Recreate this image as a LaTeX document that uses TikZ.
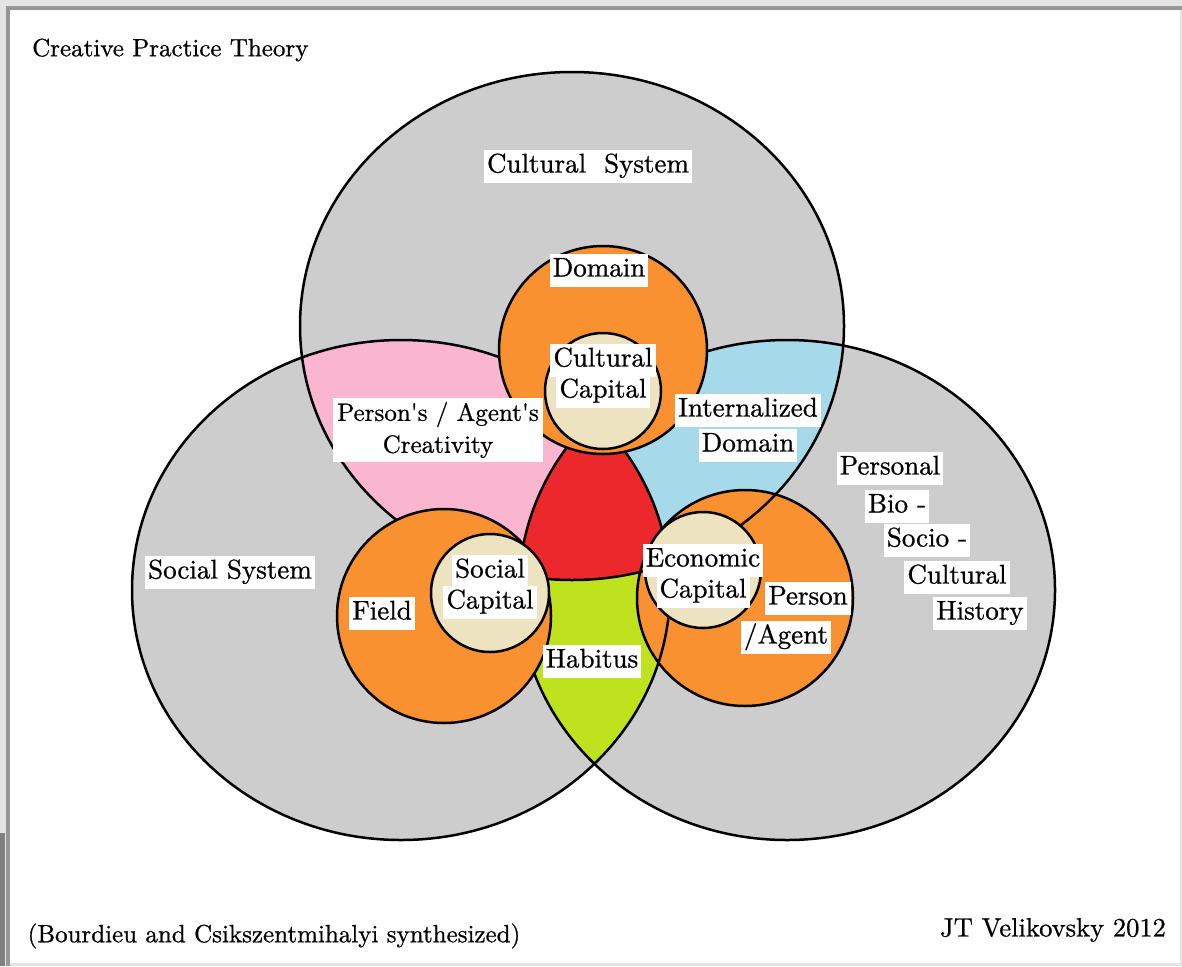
\documentclass[tikz,border=0pt]{standalone}
\usepackage{fontspec}
\usepackage{tikz}
\usepackage{xcolor}

\newfontfamily\lblfont{lmroman10-regular}[Extension=.otf, FakeBold=0.8]

\definecolor{sysgray}{RGB}{205,205,205}
\definecolor{crpink}{RGB}{250,182,206}
\definecolor{inblue}{RGB}{166,218,234}
\definecolor{midred}{RGB}{236,40,44}
\definecolor{habgreen}{RGB}{190,226,30}
\definecolor{orng}{RGB}{250,145,48}
\definecolor{capbeige}{RGB}{238,227,192}
\definecolor{framegray}{RGB}{150,150,150}
\definecolor{edgegray}{RGB}{228,228,228}

\tikzset{
  lbl/.style={fill=white, inner xsep=3pt, inner ysep=4pt, text height=19pt, text depth=6pt, font=\lblfont\fontsize{27}{32}\selectfont},
  plain/.style={inner sep=0pt, font=\lblfont\fontsize{25}{30}\selectfont},
  ring/.style={draw=black, line width=2.5pt},
}

% the three big systems
\def\culsys{(572,326) ellipse [x radius=272, y radius=254]}
\def\socsys{(401,590) ellipse [x radius=269, y radius=250]}
\def\bioh{(787,590) ellipse [x radius=268, y radius=250]}

\begin{document}
\begin{tikzpicture}[x=1pt, y=-1pt]
				\useasboundingbox (0,0) rectangle (1182,966);
				\fill[edgegray] (0,0) rectangle (1182,966);
				\fill[white] (10,10) rectangle (1180,963);
				\fill[gray] (0,833) rectangle (5,966);
				\draw[framegray, line width=4pt] (8,966) -- (8,8) -- (1182,8);

				\fill[sysgray] \culsys;
				\fill[sysgray] \socsys;
				\fill[sysgray] \bioh;
				\begin{scope}
					\clip \culsys;
					\fill[crpink] \socsys;
					\fill[inblue] \bioh;
				\end{scope}
				\begin{scope}
					\clip \socsys;
					\fill[habgreen] \bioh;
				\end{scope}
				\begin{scope}
					\clip \culsys;
					\clip \socsys;
					\fill[midred] \bioh;
				\end{scope}
				\draw[ring] \culsys;
				\draw[ring] \socsys;
				\draw[ring] \bioh;

				% orange rings
				\draw[ring, fill=orng] (603,350) circle (104);
				\draw[ring, fill=orng] (444,616) circle (107);
				\draw[ring, fill=orng] (745,598) circle (108);
				\begin{scope}
					\clip (745,598) circle (108);
					\draw[ring] \culsys;
					\draw[ring] \socsys;
				\end{scope}

				% capitals
				\draw[ring, fill=capbeige] (603,391) circle (58);
				\draw[ring, fill=capbeige] (490,593) circle (59);
				\draw[ring, fill=capbeige] (703,570) circle (58);

				\node[plain, anchor=west] (title) at (32,50) {Creative Practice Theory};
				\node[plain] (source) at (274,936) {(Bourdieu and Csikszentmihalyi synthesized)};
				\node[plain, font=\lblfont\fontsize{26.5}{30}\selectfont] (author) at (1053,930) {JT Velikovsky 2012};

				\node[lbl] (culsys) at (588,166) {Cultural~ System};
				\node[lbl] (domain) at (599,270) {Domain};
				\node[lbl] (culcapa) at (603,360) {Cultural};
				\node[lbl] (culcapb) at (603,391) {Capital};
				\node[fill=white, inner sep=4pt, align=center, font=\lblfont\fontsize{25}{32}\selectfont] (creat) at (438,430) {Person's / Agent's\\Creativity};
				\node[lbl] (indoma) at (748,410) {Internalized};
				\node[lbl] (indomb) at (748,445) {Domain};
				\node[lbl] (histA) at (890,468) {Personal};
				\node[lbl] (histB) at (897,506) {Bio -};
				\node[lbl] (histC) at (927,540) {Socio -};
				\node[lbl] (histD) at (957,577) {Cultural};
				\node[lbl] (histE) at (980,613) {History};
				\node[lbl] (socsys) at (230,572) {Social System};
				\node[lbl] (field) at (382,613) {Field};
				\node[lbl] (soccapa) at (490,571) {Social};
				\node[lbl] (soccapb) at (490,602) {Capital};
				\node[lbl] (habitus) at (592,661) {Habitus};
				\node[lbl] (ecocapa) at (703,560) {Economic};
				\node[lbl] (ecocapb) at (703,591) {Capital};
				\node[lbl] (persa) at (808,598) {Person};
				\node[lbl] (persb) at (786,637) {/Agent};
\end{tikzpicture}
\end{document}
